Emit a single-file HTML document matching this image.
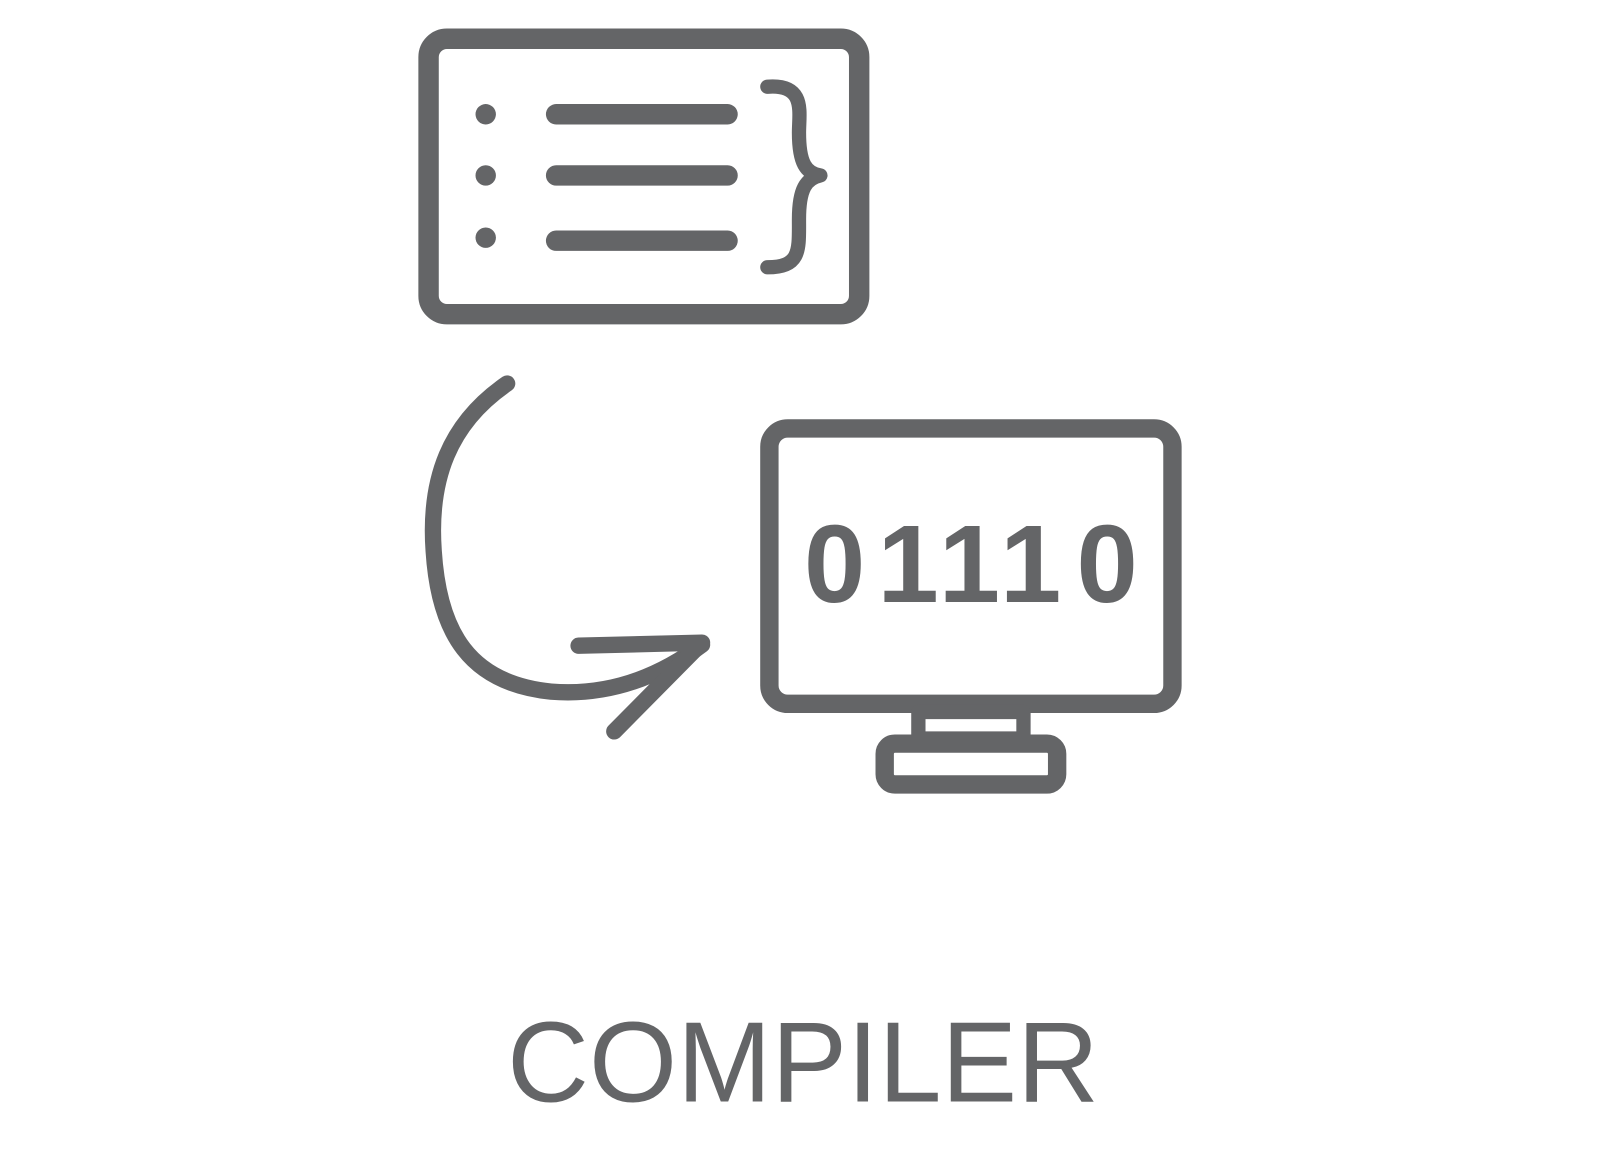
<!DOCTYPE html>
<html><head><meta charset="utf-8"><style>
html,body{margin:0;padding:0;background:#fff;}
svg{display:block}
</style></head><body>
<svg width="1600" height="1169" viewBox="0 0 1568 1146" preserveAspectRatio="none" xmlns="http://www.w3.org/2000/svg">
<rect width="1568" height="1146" fill="#fff"/>
<g fill="none" stroke="#646567" stroke-linecap="round" stroke-linejoin="round">
  <rect x="420" y="38" width="422" height="270" rx="18" stroke-width="20"/>
  <line x1="545" y1="112" x2="713" y2="112" stroke-width="20"/>
  <line x1="545" y1="172" x2="713" y2="172" stroke-width="20"/>
  <line x1="545" y1="236" x2="713" y2="236" stroke-width="20"/>
  <path d="M752 85 C790 82 783 110 783 130 C783 160 790 170 804 172 C790 175 783 185 783 215 C783 245 785 262 752 262" stroke-width="14"/>
  <path d="M497 376 C440 415 420 470 425 540 C430 620 460 670 540 678 C590 682 640 668 688 632" stroke-width="16"/>
  <path d="M567 633 L688 630 L602 717" stroke-width="16"/>
  <rect x="754" y="420" width="395" height="270" rx="18" stroke-width="18"/>
  <rect x="900" y="698" width="103" height="26" stroke-width="14"/>
  <rect x="867" y="729" width="169" height="40" rx="10" stroke-width="18"/>
</g>
<g fill="#646567">
  <circle cx="476" cy="112" r="10"/>
  <circle cx="476" cy="172" r="10"/>
  <circle cx="476" cy="233" r="10"/>
</g>
<g fill="#646567" font-family="Liberation Sans, sans-serif" font-weight="bold" font-size="108" text-anchor="middle">
  <text x="818" y="590">0</text>
  <text x="890" y="590">1</text>
  <text x="950" y="590">1</text>
  <text x="1010" y="590">1</text>
  <text x="1085" y="590">0</text>
</g>
<text x="497" y="1080" fill="#646567" font-family="Liberation Sans, sans-serif" font-size="112" textLength="580" lengthAdjust="spacingAndGlyphs">COMPILER</text>
</svg>
</body></html>
